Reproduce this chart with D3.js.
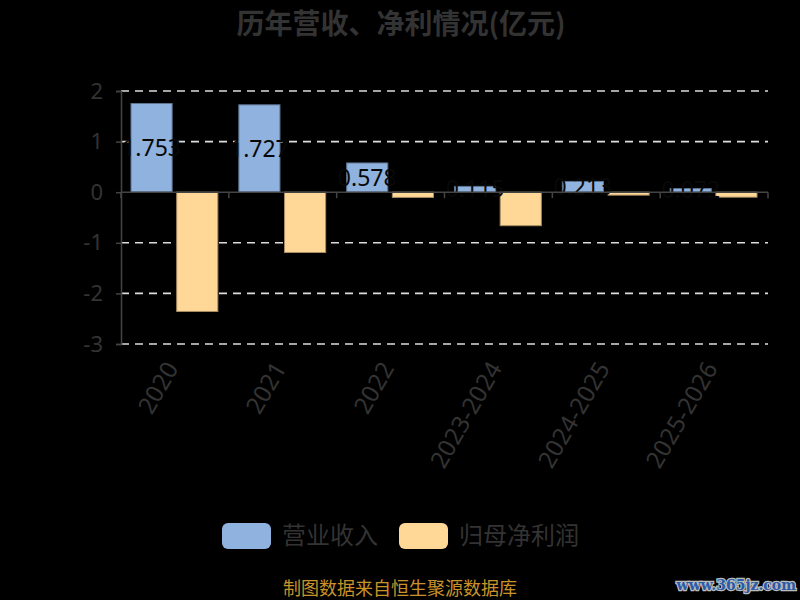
<!DOCTYPE html>
<html>
<head>
<meta charset="utf-8">
<script src="https://cdn.jsdelivr.net/npm/d3@7/dist/d3.min.js"></script>
<style>
  html, body { margin: 0; padding: 0; background: #000; }
  svg { display: block; }
</style>
</head>
<body>
<svg id="chart" width="800" height="600"></svg>
<script>
// categories and series
var categories = ['2020', '2021', '2022', '2023-2024', '2024-2025', '2025-2026'];
var seriesNames = ['营业收入', '归母净利润'];
var revenue = [1.753, 1.727, 0.578, 0.115, 0.213, 0.072];
var profit = [-2.357, -1.192, -0.103, -0.662, -0.058, -0.098];
var yTicks = [2, 1, 0, -1, -2, -3];

var colors = ['#8fb2de', '#ffd898'];
var textFont = '"Noto Sans", "Noto Sans CJK SC", sans-serif';
var cjkFont = '"Noto Sans CJK SC", "Noto Sans", sans-serif';

var svg = d3.select('#chart');

var plotLeft = 121, plotRight = 768, plotTop = 91, plotBottom = 344;

var y = d3.scaleLinear().domain([-3, 2]).range([plotBottom, plotTop]);
var x = d3.scaleBand().domain(categories).range([plotLeft, plotRight]).paddingInner(0).paddingOuter(0);
var xs = d3.scaleBand().domain(seriesNames).range([10, x.bandwidth() - 11]).paddingInner(0.1);

// title
svg.append('text')
  .attr('x', 401).attr('y', 24)
  .attr('dy', '0.35em')
  .attr('text-anchor', 'middle')
  .attr('fill', '#333')
  .style('font-family', cjkFont)
  .style('font-weight', 'bold')
  .style('font-size', '28px')
  .text('历年营收、净利情况(亿元)');

// dashed grid lines
svg.append('g').selectAll('line')
  .data(yTicks.filter(function(d){ return d !== 0; }))
  .enter().append('line')
  .attr('x1', plotLeft).attr('x2', plotRight)
  .attr('y1', function(d){ return y(d); })
  .attr('y2', function(d){ return y(d); })
  .attr('stroke', '#ddd')
  .attr('stroke-width', 1.6)
  .attr('stroke-dasharray', '8,6');

// y axis (plain hyphen for negatives, like the source)
var yAxis = svg.append('g')
  .attr('transform', 'translate(' + plotLeft + ',0)')
  .call(d3.axisLeft(y).tickValues(yTicks).tickSize(5).tickPadding(13).tickFormat(function(d){ return String(d); }));
yAxis.select('.domain').attr('stroke', '#444').attr('stroke-width', 1.5);
yAxis.selectAll('.tick line').attr('stroke', '#444').attr('stroke-width', 1.5);
yAxis.selectAll('.tick text')
  .attr('fill', '#333')
  .style('font-family', textFont)
  .style('font-size', '22px');

// bars
var groups = svg.append('g').selectAll('g')
  .data(categories)
  .enter().append('g')
  .attr('transform', function(d){ return 'translate(' + x(d) + ',0)'; });

groups.selectAll('rect')
  .data(function(d, i){
    return [
      {name: seriesNames[0], value: revenue[i], color: colors[0]},
      {name: seriesNames[1], value: profit[i], color: colors[1]}
    ];
  })
  .enter().append('rect')
  .attr('x', function(d){ return xs(d.name); })
  .attr('width', xs.bandwidth())
  .attr('y', function(d){ return y(Math.max(0, d.value)); })
  .attr('height', function(d){ return Math.abs(y(d.value) - y(0)); })
  .attr('fill', function(d){ return d.color; })
  .attr('stroke', function(d){ return d3.color(d.color).darker(1.2); })
  .attr('stroke-width', 1);

// value labels on revenue bars (near-black text, only readable on the bar)
groups.append('text')
  .attr('x', function(){ return xs(seriesNames[0]) + xs.bandwidth() / 2; })
  .attr('y', function(d, i){ return (y(revenue[i]) + y(0)) / 2; })
  .attr('dy', '0.35em')
  .attr('text-anchor', 'middle')
  .attr('fill', '#080808')
  .style('font-family', textFont)
  .style('font-size', '23px')
  .text(function(d, i){ return d3.format('.3f')(revenue[i]); });

// x axis on the zero line
var xAxis = svg.append('g')
  .attr('transform', 'translate(0,' + y(0) + ')');
xAxis.append('line')
  .attr('x1', plotLeft).attr('x2', plotRight)
  .attr('stroke', '#444').attr('stroke-width', 1.5);

var bounds = d3.range(categories.length + 1).map(function(i){ return plotLeft + i * x.step(); });
xAxis.selectAll('line.bound')
  .data(bounds)
  .enter().append('line')
  .attr('class', 'bound')
  .attr('x1', function(d){ return d; }).attr('x2', function(d){ return d; })
  .attr('y1', 0).attr('y2', 6)
  .attr('stroke', '#444').attr('stroke-width', 1.5);

// rotated category labels below the grid
svg.append('g').selectAll('text')
  .data(categories)
  .enter().append('text')
  .attr('transform', function(d){
    return 'translate(' + (x(d) + x.bandwidth() / 2 - 3) + ',' + (plotBottom + 20) + ') rotate(-60)';
  })
  .attr('text-anchor', 'end')
  .attr('dy', '0.35em')
  .attr('fill', '#333')
  .style('font-family', textFont)
  .style('font-size', '24px')
  .text(function(d){ return d; });

// legend
var legend = svg.append('g').attr('transform', 'translate(222,523)');
var legendX = [0, 177];
seriesNames.forEach(function(name, i){
  var item = legend.append('g').attr('transform', 'translate(' + legendX[i] + ',0)');
  item.append('rect')
    .attr('width', 49).attr('height', 26)
    .attr('rx', 6).attr('ry', 6)
    .attr('fill', colors[i]);
  item.append('text')
    .attr('x', 60).attr('y', 13)
    .attr('dy', '0.35em')
    .attr('fill', '#333')
    .style('font-family', cjkFont)
    .style('font-size', '24px')
    .text(name);
});

// footer
svg.append('text')
  .attr('x', 400).attr('y', 589)
  .attr('dy', '0.35em')
  .attr('text-anchor', 'middle')
  .attr('fill', '#c8932a')
  .style('font-family', cjkFont)
  .style('font-size', '18px')
  .text('制图数据来自恒生聚源数据库');

svg.append('text')
  .attr('x', 796).attr('y', 590)
  .attr('text-anchor', 'end')
  .attr('fill', '#2b5aa8')
  .attr('stroke', '#bbb')
  .attr('stroke-width', 2.5)
  .attr('paint-order', 'stroke')
  .style('font-family', '"DejaVu Serif", serif')
  .style('font-weight', 'bold')
  .style('font-size', '14px')
  .text('www.365jz.com');
</script>
</body>
</html>
